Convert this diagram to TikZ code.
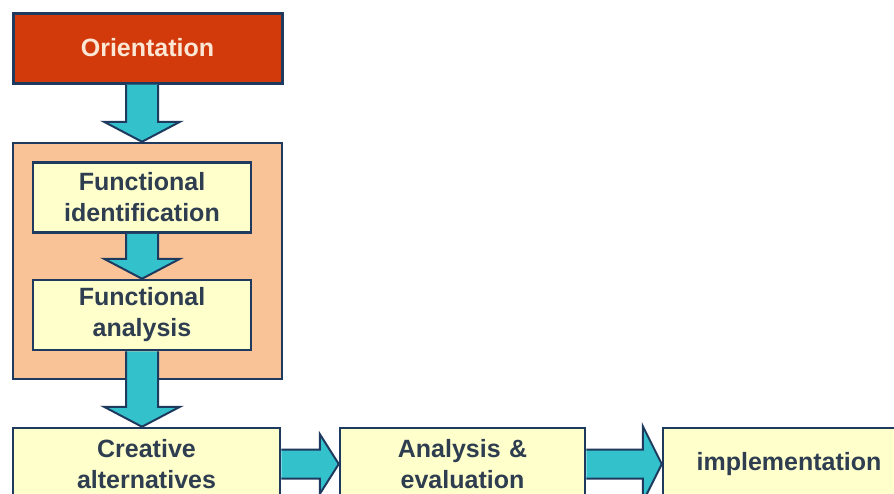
\documentclass[tikz,border=0pt]{standalone}
\usepackage{fontspec}
\setmainfont{Liberation Sans}
\usetikzlibrary{calc, positioning}
\definecolor{navy}{HTML}{1F3A5F}
\definecolor{brick}{HTML}{D23A0C}
\definecolor{peach}{HTML}{FAC397}
\definecolor{paleyellow}{HTML}{FFFFCC}
\definecolor{aqua}{HTML}{33C2CC}
\definecolor{slate}{HTML}{2E3D4F}
\definecolor{peachtext}{HTML}{FCE6D4}
\tikzstyle{stage} = [rectangle, minimum width=218pt, minimum height=70pt, text centered, text width=210pt, inner sep=0pt, draw=navy, line width=2.5pt, fill=paleyellow, text=slate, font=\bfseries\fontsize{25}{31}\selectfont]
\tikzstyle{orient} = [stage, minimum width=269pt, text width=260pt, fill=brick, text=peachtext, line width=3pt]
\tikzstyle{group} = [rectangle, minimum width=269pt, minimum height=236pt, draw=navy, line width=2.5pt, fill=peach]
\tikzstyle{fat} = [draw=navy, line width=2pt, fill=aqua, line join=miter]
\newcommand{\fatdown}[2]{\draw[fat] let \p1=#1, \p2=#2 in (\x1-16pt,\y1) -- (\x1-16pt,\y2+20pt) -- (\x1-38pt,\y2+20pt) -- (\x1,\y2) -- (\x1+38pt,\y2+20pt) -- (\x1+16pt,\y2+20pt) -- (\x1+16pt,\y1);}
\newcommand{\fatright}[3]{\draw[fat] let \p1=#1, \p2=#2 in (\x1,\y1+14.5pt) -- (\x2-19pt,\y1+14.5pt) -- (\x2-19pt,\y1+#3) -- (\x2,\y1) -- (\x2-19pt,\y1-#3) -- (\x2-19pt,\y1-14.5pt) -- (\x1,\y1-14.5pt);}

\begin{document}
\begin{tikzpicture}[x=1pt, y=-1pt]

\clip (0,0) rectangle (894,493);
\fill[white] (0,0) rectangle (894,493);

%% NODES

\node (orientation) [orient] at (147.5,48) {Orientation};
\node (fgroup) [group, below of=orientation, node distance=213pt] {};
\node (fident) [stage] at (142,197.5) {Functional\\identification};
\node (fanal) [stage, below of=fident, node distance=117.5pt] {Functional\\analysis};
\node (creative) [stage, minimum width=267pt, minimum height=72pt, text width=255pt] at (146.5,464) {Creative\\alternatives};
\node (evaluation) [stage, minimum width=245pt, minimum height=72pt, text width=235pt, right of=creative, node distance=316pt] {Analysis \&\\evaluation};
\node (implement) [stage, minimum width=252pt, minimum height=72pt, text width=230pt, right of=evaluation, node distance=326.5pt] {implementation};

%% ARROWS

\fatdown{(orientation.south -| fident)}{(fgroup.north)}
\fatdown{(fident.south)}{(fanal.north)}
\fatdown{(fanal.south)}{(creative.north)}
\fatright{(creative.east)}{(evaluation.west)}{30pt}
\fatright{(evaluation.east)}{(implement.west)}{38pt}

\end{tikzpicture}
\end{document}
